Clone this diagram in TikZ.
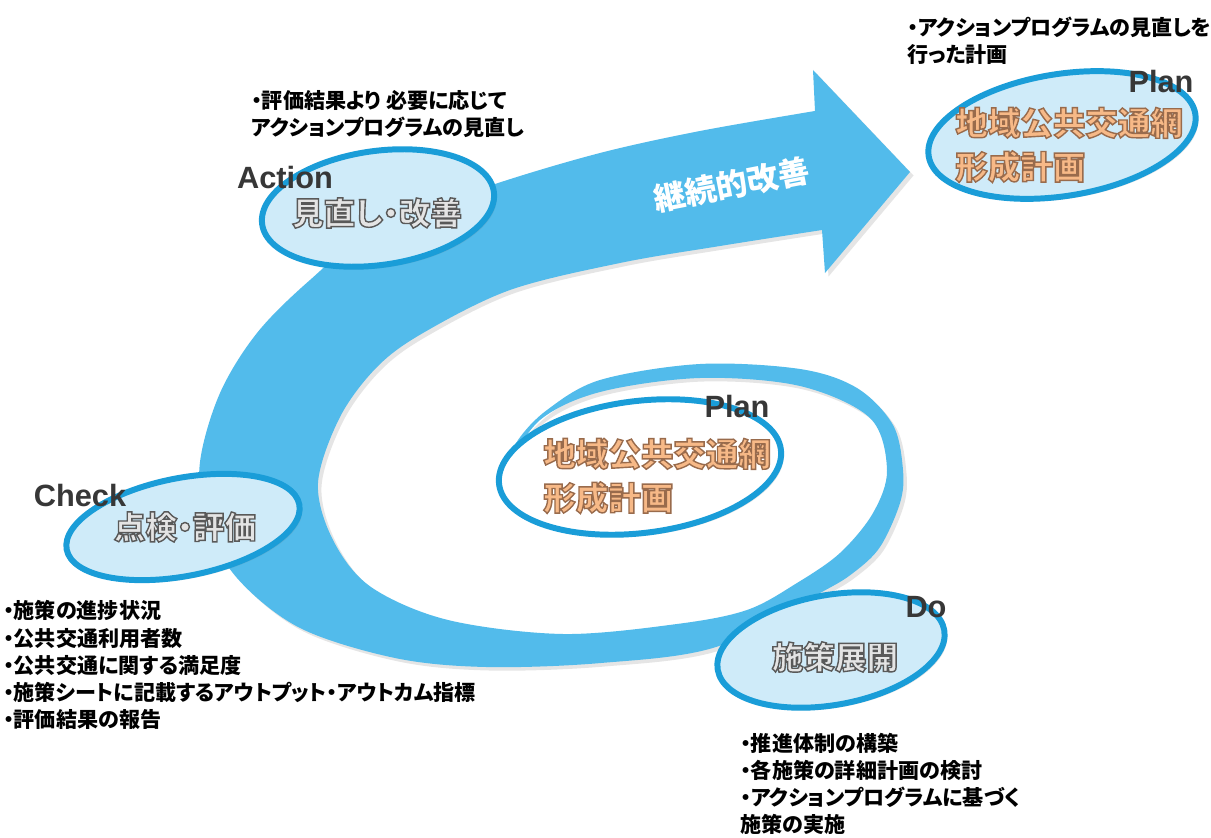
\documentclass[tikz,border=0pt]{standalone}
\usepackage{fontspec}
\setsansfont{Liberation Sans}
\newfontfamily\jpfont{Noto Sans CJK JP}[RawFeature=+palt]
\usetikzlibrary{shapes.geometric,shadows}

\definecolor{bandblue}{RGB}{82,187,235}
\definecolor{ringblue}{RGB}{26,157,216}
\definecolor{bubblefill}{RGB}{207,235,249}
\definecolor{phasegray}{RGB}{55,55,55}
\definecolor{peach}{RGB}{247,185,135}
\definecolor{palegray}{RGB}{228,228,228}

% fill + stroke text (stroke colour as "r g b")
\newcommand{\outlinetext}[2]{\special{pdf:literal direct #1 RG 0.8 w 2 Tr}#2\special{pdf:literal direct 0 Tr}}

\begin{document}
\begin{tikzpicture}
[x=0.02cm,y=-0.02cm,%%%%%%%%%%%%%%%%%%%%%%%%%%%%%%
bubble/.style={ellipse,draw=ringblue,line width=3.4pt,fill=bubblefill,inner sep=0pt,
  drop shadow={opacity=0.2,shadow xshift=1.5pt,shadow yshift=-1.5pt}},
band/.style={fill=bandblue,drop shadow={opacity=0.2,shadow xshift=2pt,shadow yshift=-2pt}},
phase/.style={font=\sffamily\bfseries\fontsize{17.5}{20}\selectfont,text=phasegray,inner sep=0pt},
stage/.style={font=\jpfont\bfseries\fontsize{18}{20}\selectfont,text=palegray,inner sep=0pt},
goal/.style={font=\jpfont\bfseries\fontsize{18.5}{25}\selectfont,text=peach,align=left,anchor=west,inner sep=0pt},
note/.style={font=\jpfont\bfseries\fontsize{12}{15.4}\selectfont,align=left,anchor=west,inner sep=0pt},
]%%%%%%%%%%%%%%%%%%%%%%%%%%%%%%
\useasboundingbox[fill=white] (0,0) rectangle (1211,838);

% spiral band with the arrow head
\fill[band] plot[smooth,tension=0.55] coordinates {(505,470) (518,440) (547,410) (600,380) (700,364) (800,369) (857,388) (893,425) (903,470) (900,503) (880,547) (853,573) (820,593) (716,647) (601,663) (486,667) (395,658) (300,628) (237,578) (205,520) (200,462) (220,393) (257,333) (310,280) (380,225) (495,184) (600,153) (700,131) (815,111)}
 -- (813,70) -- (910,172) -- (825,273) -- (822,230)
 -- plot[smooth,tension=0.55] coordinates {(822,230) (720,246) (620,263) (510,290) (423,333) (377,367) (340,417) (318,483) (333,540) (371,587) (448,620) (563,634) (677,624) (747,610) (797,583) (840,553) (873,513) (887,470) (870,418) (800,386) (700,378) (600,392) (540,420) (505,470)} -- cycle;

\node[bubble,rotate=8,minimum width=4.68cm,minimum height=2.28cm] (act) at (378,208) {};
\node[bubble,rotate=9,minimum width=5.4cm,minimum height=2.44cm] (plan) at (1062,135) {};
\node[bubble,fill=white,rotate=7,minimum width=5.68cm,minimum height=2.64cm] (cen) at (640,467) {};
\node[bubble,rotate=11,minimum width=4.74cm,minimum height=1.96cm] (chk) at (183,527) {};
\node[bubble,rotate=10,minimum width=4.6cm,minimum height=2.2cm] (do) at (831,650) {};

\node[phase] (actlab) at (285,178) {Action};
\node[stage] (acttxt) at (377,213) {\outlinetext{0.35 0.35 0.35}{見直し・改善}};
\node[phase] (planlab) at (1161,82) {Plan};
\node[goal] (plantxt) at (955,145) {\outlinetext{0.6 0.42 0.3}{地域公共交通網\\形成計画}};
\node[phase] (cenlab) at (737,407) {Plan};
\node[goal] (centxt) at (543,476) {\outlinetext{0.6 0.42 0.3}{地域公共交通網\\形成計画}};
\node[phase] (chklab) at (80,496) {Check};
\node[stage] (chktxt) at (185,527) {\outlinetext{0.35 0.35 0.35}{点検・評価}};
\node[phase] (dolab) at (926,607) {Do};
\node[stage] (dotxt) at (835,657) {\outlinetext{0.35 0.35 0.35}{施策展開}};
\node[font=\jpfont\bfseries\fontsize{18}{20}\selectfont,text=white,rotate=11] (loop) at (732,185) {継続的改善};

\node[note] (plannote) at (907,41) {・アクションプログラムの見直しを\\行った計画};
\node[note] (actnote) at (251,114) {・評価結果より 必要に応じて\\アクションプログラムの見直し};
\node[note] (chknote) at (3,665) {・施策の進捗状況\\・公共交通利用者数\\・公共交通に関する満足度\\・施策シートに記載するアウトプット・アウトカム指標\\・評価結果の報告};
\node[note] (donote) at (740,784) {・推進体制の構築\\・各施策の詳細計画の検討\\・アクションプログラムに基づく\\施策の実施};
\end{tikzpicture}
\end{document}
